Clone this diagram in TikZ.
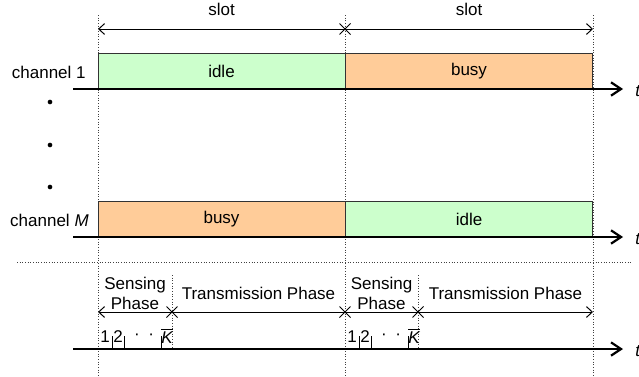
\documentclass[tikz,border=0pt]{standalone}
\usepackage{fontspec}
\setmainfont{Liberation Sans}
\usetikzlibrary{arrows.meta,shapes.misc}
\definecolor{idlegreen}{RGB}{204,255,204}
\definecolor{busyorange}{RGB}{255,204,153}

\begin{document}
\begin{tikzpicture}[
    x=0.6pt, y=-0.6pt,
    font=\fontsize{10.2}{12}\selectfont,
    slotbox/.style={draw=black!80, line width=0.6pt, minimum width=148.2pt, minimum height=21.6pt, inner sep=0pt},
    idlebox/.style={slotbox, fill=idlegreen},
    busybox/.style={slotbox, fill=busyorange},
    axis/.style={-{Straight Barb[length=6pt, width=8pt, line width=1.3pt]}, line width=1.3pt},
    guide/.style={densely dotted, line width=0.6pt, black!75},
    span/.style={{Straight Barb[length=3.5pt, width=6.5pt]}-{Straight Barb[length=3.5pt, width=6.5pt]}, line width=0.6pt},
    cross/.style={cross out, draw, line width=0.6pt, minimum size=6pt, inner sep=0pt},
    slotmark/.style={line width=0.5pt}
]
    \useasboundingbox (0,0) rectangle (639,376);

    % guides
    \foreach \gx in {98,345,593}
        \draw[guide] (\gx,15) -- (\gx,376);
    \foreach \gx in {172,418}
        \draw[guide] (\gx,275) -- (\gx,349);
    \draw[guide] (17,262) -- (632,262);

    % slots
    \coordinate (s0) at (98,29);
    \coordinate (s2) at (593,29);
    \node[cross] (x1) at (345,29) {};
    \draw[span] (s0) -- (s2);
    \node (slotA) at (221.5,9) {slot};
    \node (slotB) at (469,9) {slot};

    % channels
    \node[idlebox] (idle1) at (221.5,71) {idle};
    \node[busybox] (busy1) at (469,71) {busy};
    \node[busybox] (busyM) at (221.5,219) {busy};
    \node[idlebox] (idleM) at (469,219) {idle};
    \node[anchor=east, inner sep=0pt] (ch1) at (86,72) {channel 1};
    \node[anchor=east, inner sep=0pt] (chM) at (89,220) {channel \textit{M}};
    \foreach \dy in {102,145,187}
        \fill (50,\dy) circle[radius=1.4pt];

    % time axes
    \foreach \ay in {89,237,349} {
        \draw[axis] (73,\ay) -- (623,\ay);
        \node[anchor=west, inner sep=0pt] at (635,\ay+2) {\textit{t}};
    }

    % phases
    \coordinate (p0) at (98,312);
    \coordinate (p4) at (593,312);
    \draw[span] (p0) -- (p4);
    \node[cross] (px1) at (172,312) {};
    \node[cross] (px2) at (345,312) {};
    \node[cross] (px3) at (418,312) {};
    \node[align=center] (sensA) at (135,293) {Sensing\\Phase};
    \node (transA) at (258.5,293) {Transmission Phase};
    \node[align=center] (sensB) at (381.5,293) {Sensing\\Phase};
    \node (transB) at (505.5,293) {Transmission Phase};

    % mini slots
    \foreach \off/\nm in {0/A,247/B} {
        \foreach \tx in {112,124,161}
            \draw[slotmark] (\tx+\off,336) -- (\tx+\off,349);
        \node[inner sep=0pt] (one\nm) at (105+\off,337) {1};
        \node[inner sep=0pt] (two\nm) at (118+\off,337) {2};
        \node[inner sep=0pt] (dots\nm) at (144+\off,337) {·\,\,\,·};
        \node[inner sep=0pt] (kbar\nm) at (167+\off,336) {$\overline{\textit{K}}$};
    }
\end{tikzpicture}
\end{document}
